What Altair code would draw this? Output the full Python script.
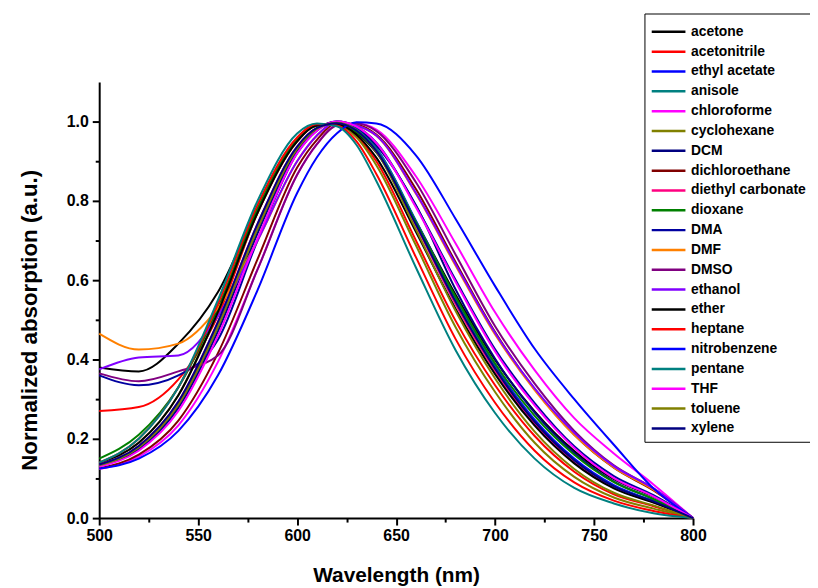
import altair as alt
import pandas as pd

wavelength = [500, 520, 540, 560, 580, 600, 610, 620, 630, 640, 660, 680, 700, 720, 740, 760, 780, 800]

solvents = ["acetone", "acetonitrile", "ethyl acetate", "anisole", "chloroforme", "cyclohexane",
            "DCM", "dichloroethane", "diethyl carbonate", "dioxane", "DMA", "DMF", "DMSO",
            "ethanol", "ether", "heptane", "nitrobenzene", "pentane", "THF", "toluene", "xylene"]

colors = ["#000000", "#FF0000", "#0000FF", "#008080", "#FF00FF", "#808000",
          "#000080", "#800000", "#FF0080", "#008000", "#0000A0", "#FF8000", "#800080",
          "#8000FF", "#000000", "#FF0000", "#0000FF", "#008080", "#FF00FF", "#808000", "#000080"]

acetone = [0.38, 0.37, 0.44, 0.57, 0.78, 0.955, 0.99, 0.994, 0.971, 0.922, 0.748, 0.564, 0.399, 0.269, 0.169, 0.098, 0.054, 0.0]
acetonitrile = [0.27, 0.28, 0.35, 0.51, 0.77, 0.95, 0.99, 0.993, 0.963, 0.90, 0.70, 0.498, 0.335, 0.207, 0.117, 0.06, 0.03, 0.0]
ethyl_acetate = [0.133, 0.178, 0.286, 0.483, 0.73, 0.931, 0.982, 0.997, 0.982, 0.933, 0.75, 0.556, 0.384, 0.248, 0.15, 0.083, 0.043, 0.0]
anisole = [0.133, 0.178, 0.286, 0.483, 0.73, 0.931, 0.982, 0.997, 0.98, 0.932, 0.748, 0.55, 0.38, 0.243, 0.145, 0.08, 0.042, 0.0]
chloroforme = [0.124, 0.155, 0.234, 0.394, 0.627, 0.866, 0.943, 0.991, 0.995, 0.98, 0.862, 0.693, 0.519, 0.373, 0.252, 0.163, 0.085, 0.0]
cyclohexane = [0.14, 0.19, 0.31, 0.52, 0.77, 0.95, 0.99, 0.993, 0.96, 0.89, 0.688, 0.482, 0.318, 0.19, 0.104, 0.052, 0.024, 0.0]
dcm = [0.131, 0.174, 0.278, 0.471, 0.718, 0.926, 0.98, 1.0, 0.986, 0.94, 0.789, 0.577, 0.402, 0.266, 0.164, 0.092, 0.048, 0.0]
dichloroethane = [0.126, 0.16, 0.246, 0.416, 0.653, 0.884, 0.954, 0.995, 0.992, 0.967, 0.83, 0.646, 0.469, 0.325, 0.21, 0.127, 0.07, 0.0]
diethyl_carbonate = [0.135, 0.182, 0.294, 0.495, 0.742, 0.937, 0.984, 0.996, 0.976, 0.925, 0.738, 0.54, 0.372, 0.238, 0.14, 0.077, 0.04, 0.0]
dioxane = [0.15, 0.21, 0.33, 0.53, 0.78, 0.955, 0.99, 0.995, 0.974, 0.925, 0.746, 0.558, 0.39, 0.258, 0.16, 0.091, 0.048, 0.0]
dma = [0.36, 0.335, 0.36, 0.45, 0.70, 0.92, 0.977, 1.0, 0.987, 0.947, 0.787, 0.601, 0.426, 0.29, 0.181, 0.106, 0.058, 0.0]
dmf = [0.465, 0.425, 0.44, 0.53, 0.70, 0.90, 0.965, 0.998, 0.99, 0.964, 0.818, 0.637, 0.463, 0.323, 0.21, 0.128, 0.072, 0.0]
dmso = [0.365, 0.345, 0.37, 0.41, 0.627, 0.866, 0.943, 0.99, 0.995, 0.976, 0.847, 0.665, 0.484, 0.339, 0.22, 0.133, 0.075, 0.0]
ethanol = [0.375, 0.405, 0.41, 0.51, 0.70, 0.90, 0.965, 0.998, 0.99, 0.965, 0.82, 0.641, 0.467, 0.327, 0.215, 0.131, 0.075, 0.0]
ether = [0.14, 0.19, 0.31, 0.52, 0.77, 0.95, 0.99, 0.993, 0.967, 0.909, 0.722, 0.528, 0.363, 0.233, 0.138, 0.075, 0.039, 0.0]
heptane = [0.14, 0.20, 0.33, 0.54, 0.79, 0.96, 0.993, 0.99, 0.95, 0.868, 0.658, 0.452, 0.291, 0.17, 0.09, 0.044, 0.018, 0.0]
nitrobenzene = [0.125, 0.15, 0.22, 0.36, 0.575, 0.82, 0.91, 0.97, 0.998, 0.995, 0.915, 0.755, 0.585, 0.427, 0.30, 0.185, 0.075, 0.0]
pentane = [0.14, 0.20, 0.33, 0.55, 0.80, 0.97, 0.995, 0.988, 0.941, 0.85, 0.632, 0.424, 0.265, 0.15, 0.076, 0.037, 0.012, 0.0]
thf = [0.13, 0.17, 0.27, 0.46, 0.705, 0.92, 0.977, 1.0, 0.987, 0.946, 0.784, 0.596, 0.42, 0.284, 0.177, 0.101, 0.055, 0.0]
toluene = [0.133, 0.178, 0.286, 0.483, 0.73, 0.931, 0.982, 0.997, 0.978, 0.924, 0.728, 0.523, 0.352, 0.218, 0.124, 0.064, 0.032, 0.0]
xylene = [0.135, 0.182, 0.294, 0.495, 0.742, 0.937, 0.984, 0.996, 0.977, 0.926, 0.741, 0.546, 0.377, 0.243, 0.146, 0.08, 0.042, 0.0]

series = [acetone, acetonitrile, ethyl_acetate, anisole, chloroforme, cyclohexane, dcm,
          dichloroethane, diethyl_carbonate, dioxane, dma, dmf, dmso, ethanol, ether,
          heptane, nitrobenzene, pentane, thf, toluene, xylene]

x_major = [500, 550, 600, 650, 700, 750, 800]
x_minor = [525, 575, 625, 675, 725, 775]
y_major = [0.0, 0.2, 0.4, 0.6, 0.8, 1.0]
y_minor = [0.1, 0.3, 0.5, 0.7, 0.9]

rows = []
for k, (name, vals) in enumerate(zip(solvents, series)):
    for w, v in zip(wavelength, vals):
        rows.append({"solvent": name, "order": k, "wavelength": w, "absorption": v})
df = pd.DataFrame(rows)

FONT = "Liberation Sans"

xscale = alt.Scale(domain=[500, 800], nice=False, zero=False)
yscale = alt.Scale(domain=[0, 1.1], nice=False)

lines = alt.Chart(df).mark_line(strokeWidth=2, interpolate="monotone").encode(
    x=alt.X("wavelength:Q", scale=xscale,
            axis=alt.Axis(values=x_major, orient="bottom", title="Wavelength (nm)", grid=False,
                          tickSize=7, tickWidth=2, domainWidth=2, domainColor="black",
                          tickColor="black", labelFontSize=16, labelFontWeight="bold",
                          labelFont=FONT, labelColor="black", titleFont=FONT,
                          titleFontSize=21, titleFontWeight="bold", titleColor="black",
                          titlePadding=21, labelPadding=3, labelFlush=False)),
    y=alt.Y("absorption:Q", scale=yscale,
            axis=alt.Axis(values=y_major, orient="left", format=".1f",
                          title="Normalized absorption (a.u.)",
                          grid=False, tickSize=7, tickWidth=2, domainWidth=2,
                          domainColor="black", tickColor="black", labelFontSize=16,
                          labelFontWeight="bold", labelFont=FONT, labelColor="black",
                          titleFont=FONT, titleFontSize=22.5, titleFontWeight="bold",
                          titleColor="black", titlePadding=25, titleY=240,
                          labelPadding=4, labelFlush=False)),
    color=alt.Color("solvent:N", sort=solvents,
                    scale=alt.Scale(domain=solvents, range=colors),
                    legend=alt.Legend(title=None, orient="none", legendX=550, legendY=-69,
                                      symbolType="M-1,0H2.05", symbolSize=497,
                                      symbolStrokeWidth=2.5, labelFont=FONT,
                                      labelFontSize=14, labelFontWeight="bold",
                                      labelColor="black", rowPadding=0, padding=6,
                                      strokeColor="black", fillColor="white",
                                      labelOffset=16, labelLimit=300)),
    detail="order:O",
    order="order:Q",
)

minor = alt.Chart(df).mark_line(opacity=0).encode(
    x=alt.X("wavelength:Q", scale=xscale,
            axis=alt.Axis(values=x_minor, orient="bottom", labels=False, title=None,
                          grid=False, domain=False, tickSize=4, tickWidth=2,
                          tickColor="black")),
    y=alt.Y("absorption:Q", scale=yscale,
            axis=alt.Axis(values=y_minor, orient="left", labels=False, title=None,
                          grid=False, domain=False, tickSize=4, tickWidth=2,
                          tickColor="black")),
    detail="order:O",
)

chart = alt.layer(minor, lines).resolve_axis(x="independent", y="independent").properties(
    width=599, height=440,
    background="white",
    autosize=alt.AutoSizeParams(type="none"),
    padding={"left": 92, "top": 72, "right": 118, "bottom": 74},
).configure_view(strokeWidth=0)

chart.save("out.html", embed_options={"renderer": "svg", "actions": False})
